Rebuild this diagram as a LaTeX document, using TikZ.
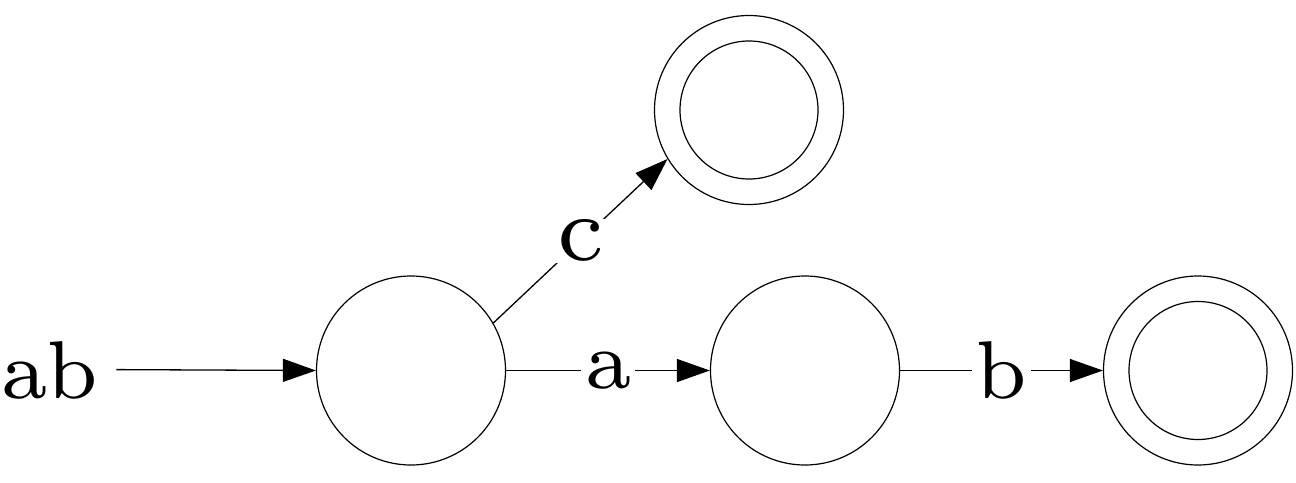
\documentclass[tikz,border=0pt]{standalone}
\usetikzlibrary{arrows.meta}
\font\lblfont=cmr7 at 82pt
\font\clblfont=cmr7 at 92pt
\begin{document}
\begin{tikzpicture}[x=1pt,y=1pt,
  state/.style={circle,draw,line width=1.2pt,minimum size=189pt,inner sep=0pt},
  innerring/.style={circle,draw,line width=1.2pt,minimum size=138pt,inner sep=0pt},
  lbl/.style={font=\lblfont,fill=white,inner sep=4pt},
  edge/.style={line width=1.3pt,-{Triangle[length=33pt,width=23pt]}}]
\useasboundingbox (0,0) rectangle (1296,-482);
\node[state] (q0) at (411,-370.5) {};
\node[state] (q1) at (805,-370.5) {};
\node[state] (q2) at (1198,-370.5) {};
\node[innerring] (q2i) at (1198,-370.5) {};
\node[state] (q3) at (749,-110) {};
\node[innerring] (q3i) at (749,-110) {};
\node[font=\lblfont,inner sep=0pt,anchor=base west] (ab) at (0,-398) {ab};
\draw[edge,shorten <=17.5pt] (ab.east) -- (q0.west);
\draw[edge] (q0.east) -- node[lbl] (la) {a} (q1.west);
\draw[edge] (q1.east) -- node[lbl] (lb) {b} (q2.west);
\draw[edge] (q0.30) -- node[lbl,font=\clblfont,inner sep=2pt] (lc) {c} (q3.211);
\end{tikzpicture}
\end{document}
